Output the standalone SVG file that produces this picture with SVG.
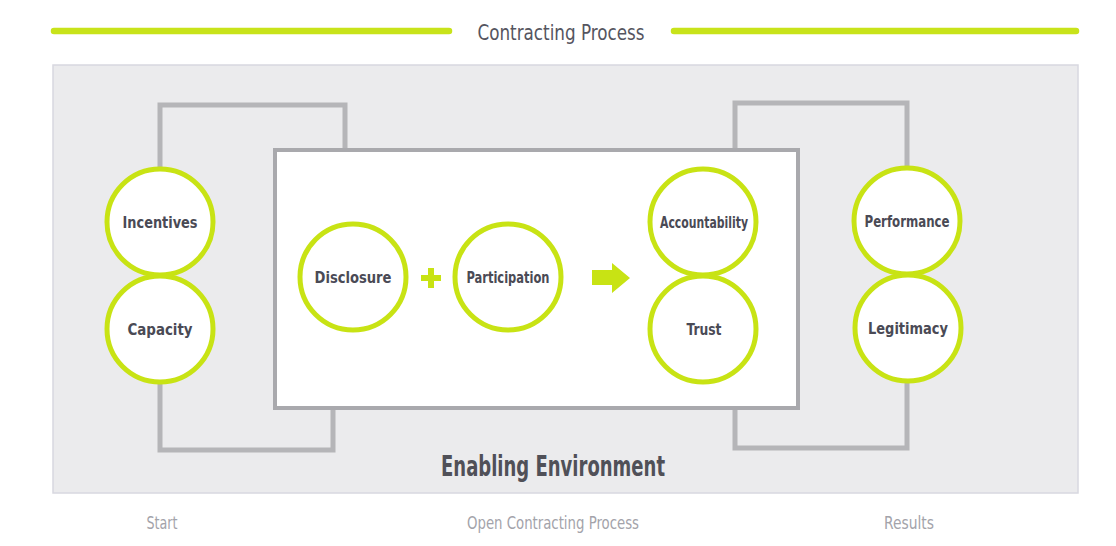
<svg xmlns="http://www.w3.org/2000/svg" width="1116" height="546" viewBox="0 0 1116 546">
<style>
.bar{stroke:#c8e31a;stroke-width:6.5;stroke-linecap:round;fill:none}
.brk{stroke:#b5b5b8;stroke-width:5;fill:none}
.node circle{fill:#ffffff;stroke:#c8e314;stroke-width:5}
.node text{font-family:"DejaVu Sans Condensed","DejaVu Sans",sans-serif;font-stretch:condensed;font-weight:bold;font-size:16px;fill:#4a4a55;text-anchor:middle}
.lbl{font-family:"DejaVu Sans Condensed","DejaVu Sans",sans-serif;font-stretch:condensed;text-anchor:middle}
</style>
<rect width="1116" height="546" fill="#ffffff"/>
<g id="header">
<line class="bar" x1="54" y1="31" x2="449" y2="31"/>
<line class="bar" x1="674" y1="31" x2="1076" y2="31"/>
<text class="lbl" x="561" y="40" font-size="22" fill="#555560" textLength="167" lengthAdjust="spacingAndGlyphs">Contracting Process</text>
</g>
<g id="environment">
<rect x="53" y="65" width="1025" height="428" fill="#ebebed" stroke="#d8d8e0" stroke-width="1.5"/>
<text class="lbl" x="553" y="476" font-size="28" font-weight="bold" fill="#505058" textLength="224" lengthAdjust="spacingAndGlyphs">Enabling Environment</text>
</g>
<g id="connectors">
<polyline class="brk" points="160,168 160,105 345,105 345,150"/>
<polyline class="brk" points="160,382 160,450 333,450 333,408"/>
<polyline class="brk" points="735,150 735,103 907,103 907,168"/>
<polyline class="brk" points="907,382 907,448 735,448 735,408"/>
</g>
<g id="process-box">
<rect x="275" y="150" width="523" height="258" fill="#ffffff" stroke="#a9a9ad" stroke-width="4"/>
<path d="M421,278 h20 M431,268 v20" stroke="#c8e314" stroke-width="6" fill="none"/>
<path d="M592,270 h20 v-7 l18,15 l-18,15 v-8 h-20 z" fill="#c8e314"/>
</g>
<g id="incentives" class="node"><circle cx="160" cy="222" r="53"/><text x="160" y="228" textLength="75" lengthAdjust="spacingAndGlyphs">Incentives</text></g>
<g id="capacity" class="node"><circle cx="160" cy="329" r="53"/><text x="160" y="335" textLength="65" lengthAdjust="spacingAndGlyphs">Capacity</text></g>
<g id="disclosure" class="node"><circle cx="353" cy="277" r="53"/><text x="353" y="283" textLength="77" lengthAdjust="spacingAndGlyphs">Disclosure</text></g>
<g id="participation" class="node"><circle cx="508" cy="277" r="53"/><text x="508" y="283" font-size="15" textLength="83" lengthAdjust="spacingAndGlyphs">Participation</text></g>
<g id="accountability" class="node"><circle cx="703" cy="222" r="53"/><text x="704" y="228" font-size="15" textLength="88" lengthAdjust="spacingAndGlyphs">Accountability</text></g>
<g id="trust" class="node"><circle cx="703" cy="329" r="53"/><text x="704" y="335" textLength="35" lengthAdjust="spacingAndGlyphs">Trust</text></g>
<g id="performance" class="node"><circle cx="907" cy="221" r="53"/><text x="907" y="227" font-size="15" textLength="85" lengthAdjust="spacingAndGlyphs">Performance</text></g>
<g id="legitimacy" class="node"><circle cx="908" cy="328" r="53"/><text x="908" y="334" textLength="80" lengthAdjust="spacingAndGlyphs">Legitimacy</text></g>
<g id="footer">
<text class="lbl" x="162" y="529" font-size="17" fill="#a3a3aa" textLength="31" lengthAdjust="spacingAndGlyphs">Start</text>
<text class="lbl" x="553" y="529" font-size="17" fill="#a3a3aa" textLength="172" lengthAdjust="spacingAndGlyphs">Open Contracting Process</text>
<text class="lbl" x="909" y="529" font-size="17" fill="#a3a3aa" textLength="50" lengthAdjust="spacingAndGlyphs">Results</text>
</g>
</svg>
